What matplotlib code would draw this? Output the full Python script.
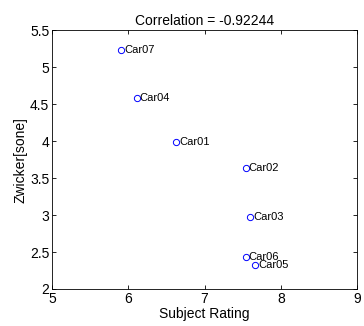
import matplotlib
matplotlib.use('Agg')
import matplotlib.pyplot as plt

plt.rcParams['font.family'] = ['Liberation Sans', 'DejaVu Sans']

cars = ['Car01', 'Car02', 'Car03', 'Car04', 'Car05', 'Car06', 'Car07']
rating = [6.63, 7.54, 7.60, 6.11, 7.66, 7.54, 5.91]
zwicker = [3.99, 3.64, 2.98, 4.58, 2.33, 2.43, 5.23]
corr = -0.92244

fig = plt.figure(figsize=(3.64, 3.26), dpi=100)
ax = fig.add_axes([0.143, 0.1135, 0.838, 0.794])

ax.plot(rating, zwicker, 'o', mfc='none', mec='blue', ms=4.5, mew=0.7)
for name, x, y in zip(cars, rating, zwicker):
    ax.text(x + 0.04, y, name, fontsize=8, ha='left', va='center')

ax.set_xlim(5, 9)
ax.set_ylim(2, 5.5)
ax.set_xticks([5, 6, 7, 8, 9])
ax.set_yticks([2, 2.5, 3, 3.5, 4, 4.5, 5, 5.5])
ax.set_yticklabels(['2', '2.5', '3', '3.5', '4', '4.5', '5', '5.5'])
ax.tick_params(direction='in', top=True, right=True, labelsize=10, length=3, width=0.6, pad=2)
for s in ax.spines.values():
    s.set_linewidth(0.6)

ax.set_xlabel('Subject Rating', fontsize=10, labelpad=1)
ax.set_ylabel('Zwicker[sone]', fontsize=10, labelpad=2)
ax.set_title('Correlation = %g' % corr, fontsize=10, pad=4)

fig.savefig('out.png', dpi=100)
